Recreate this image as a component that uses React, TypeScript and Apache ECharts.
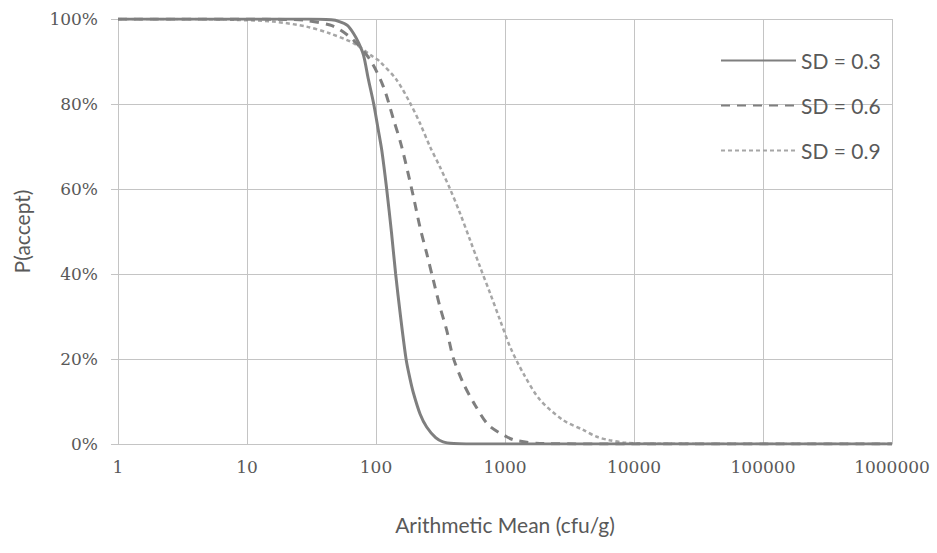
import React, { useEffect, useRef } from "react";
import * as echarts from "echarts";

// Arithmetic mean (cfu/g) and P(accept)
const sd03X = [1, 10, 30, 45, 52, 60, 67, 73, 80, 87, 96, 104, 111, 121, 132, 142, 155, 171, 183, 195, 220, 247, 290, 331, 400, 500, 1000, 10000, 1000000];
const sd03Y = [1, 1, 1, 0.998, 0.994, 0.985, 0.966, 0.945, 0.915, 0.86, 0.8, 0.74, 0.69, 0.6, 0.496, 0.4, 0.3, 0.2, 0.155, 0.12, 0.07, 0.04, 0.015, 0.005, 0.001, 0, 0, 0, 0];

const sd06X = [1, 10, 20, 28, 44, 53, 67, 90, 114, 136, 158, 195, 219, 247, 278, 313, 353, 398, 475, 585, 743, 1030, 1230, 2000, 10000, 1000000];
const sd06Y = [1, 1, 0.999, 0.997, 0.986, 0.974, 0.95, 0.904, 0.841, 0.766, 0.7, 0.582, 0.511, 0.449, 0.386, 0.323, 0.268, 0.202, 0.143, 0.092, 0.045, 0.017, 0.008, 0.001, 0, 0];

const sd09X = [1, 4, 8, 16, 29, 44, 67, 95, 107, 145, 184, 219, 262, 313, 375, 448, 536, 640, 766, 914, 1094, 1387, 1866, 2830, 4050, 5140, 6460, 8500, 12000, 100000, 1000000];
const sd09Y = [1, 1, 0.998, 0.994, 0.982, 0.966, 0.943, 0.911, 0.9, 0.856, 0.802, 0.755, 0.7, 0.652, 0.6, 0.543, 0.48, 0.417, 0.355, 0.292, 0.229, 0.166, 0.104, 0.056, 0.033, 0.017, 0.009, 0.003, 0.001, 0, 0];

const seriesNames = ["SD = 0.3", "SD = 0.6", "SD = 0.9"];
const yTicks = [0, 0.2, 0.4, 0.6, 0.8, 1];

const pairs = (xs: number[], ys: number[]) => xs.map((x, i) => [x, ys[i]]);

export default function App() {
  const ref = useRef<HTMLDivElement>(null);
  useEffect(() => {
    if (!ref.current) return;
    const chart = echarts.init(ref.current, undefined, { renderer: "svg" });
    const textColor = "#595959";
    const gridColor = "#c4c4c4";
    chart.setOption({
      animation: false,
      backgroundColor: "#ffffff",
      grid: { left: 118, right: 45, top: 19, bottom: 109 },
      legend: {
        orient: "vertical",
        left: 715,
        top: 45,
        itemWidth: 75,
        itemHeight: 22,
        itemGap: 24,
        itemStyle: { opacity: 0 },
        data: seriesNames,
        textStyle: { fontFamily: "Lato", fontSize: 21, color: textColor },
      },
      xAxis: {
        type: "log",
        logBase: 10,
        min: 1,
        max: 1000000,
        name: "Arithmetic Mean (cfu/g)",
        nameLocation: "middle",
        nameGap: 70,
        nameTextStyle: { fontFamily: "Lato", fontSize: 21, color: textColor },
        axisLine: { show: true, lineStyle: { color: gridColor, width: 1 } },
        axisTick: { show: false },
        axisLabel: {
          margin: 14,
          fontFamily: "DejaVu Serif",
          fontSize: 17,
          color: textColor,
          formatter: (v: number) => String(Math.round(v)),
        },
        splitLine: { show: true, lineStyle: { color: gridColor, width: 1 } },
        minorTick: { show: false },
      },
      yAxis: {
        type: "value",
        min: 0,
        max: 1,
        interval: 0.2,
        name: "P(accept)",
        nameLocation: "middle",
        nameGap: 86,
        nameTextStyle: { fontFamily: "Lato", fontSize: 21, color: textColor },
        axisLine: { show: true, lineStyle: { color: gridColor, width: 1 } },
        axisTick: { show: true, length: 7, inside: false, lineStyle: { color: gridColor } },
        axisLabel: {
          margin: 20,
          fontFamily: "DejaVu Serif",
          fontSize: 17,
          color: textColor,
          formatter: (v: number) => (yTicks.includes(Math.round(v * 10) / 10) ? Math.round(v * 100) + "%" : ""),
        },
        splitLine: { show: true, lineStyle: { color: gridColor, width: 1 } },
      },
      series: [
        {
          name: seriesNames[0],
          type: "line",
          data: pairs(sd03X, sd03Y),
          smooth: 0.3,
          symbol: "none",
          lineStyle: { color: "#7f7f7f", width: 3, type: "solid" },
          itemStyle: { color: "#7f7f7f" },
          z: 3,
        },
        {
          name: seriesNames[1],
          type: "line",
          data: pairs(sd06X, sd06Y),
          smooth: 0.3,
          symbol: "none",
          lineStyle: { color: "#7f7f7f", width: 3, type: [9, 7] },
          itemStyle: { color: "#7f7f7f" },
          z: 2,
        },
        {
          name: seriesNames[2],
          type: "line",
          data: pairs(sd09X, sd09Y),
          smooth: 0.3,
          symbol: "none",
          lineStyle: { color: "#a6a6a6", width: 2.5, type: [4, 3] },
          itemStyle: { color: "#a6a6a6" },
          z: 1,
        },
      ],
    });
    return () => chart.dispose();
  }, []);
  return (
    <div
      ref={ref}
      style={{ position: "fixed", left: 0, top: 0, width: 937, height: 553, background: "#fff" }}
    />
  );
}
